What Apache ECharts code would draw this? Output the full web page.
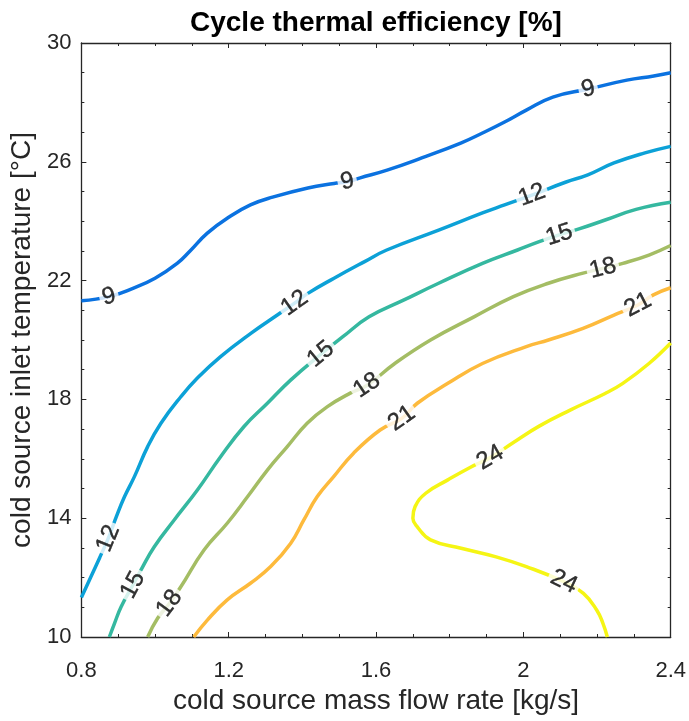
<!DOCTYPE html>
<html>
<head>
<meta charset="utf-8">
<script src="https://cdn.jsdelivr.net/npm/echarts@6/dist/echarts.min.js"></script>
<style>
html,body{margin:0;padding:0;background:#fff;}
#main{width:689px;height:721px;}
</style>
</head>
<body>
<div id="main"></div>
<script>
// ---- data ----
const xTicks = [0.8, 1.2, 1.6, 2, 2.4];
const yTicks = [10, 14, 18, 22, 26, 30];
const levels = [9, 12, 15, 18, 21, 24];

const c9 = [[0.8,21.32],[0.875,21.46],[0.94,21.74],[1.0,22.08],[1.06,22.58],[1.095,23.0],[1.142,23.6],[1.201,24.14],[1.259,24.55],[1.319,24.81],[1.415,25.12],[1.486,25.27],[1.522,25.33],[1.557,25.46],[1.63,25.72],[1.724,26.13],[1.83,26.63],[1.889,26.97],[1.949,27.34],[2.008,27.74],[2.08,28.18],[2.176,28.45],[2.281,28.75],[2.354,28.89],[2.4,29.0]];
const c12 = [[0.8,11.33],[0.825,12.0],[0.85,12.68],[0.873,13.32],[0.895,14.05],[0.917,14.72],[0.944,15.4],[0.98,16.41],[1.016,17.2],[1.07,18.09],[1.115,18.72],[1.178,19.44],[1.261,20.23],[1.332,20.84],[1.379,21.24],[1.415,21.57],[1.486,22.08],[1.569,22.64],[1.629,23.03],[1.77,23.7],[1.889,24.28],[1.949,24.55],[2.023,24.88],[2.116,25.32],[2.175,25.56],[2.246,25.96],[2.33,26.3],[2.4,26.52]];
const c15 = [[0.876,10.0],[0.89,10.46],[0.908,11.02],[0.94,11.75],[0.962,12.26],[0.998,13.04],[1.052,13.94],[1.115,14.95],[1.178,16.07],[1.241,17.08],[1.305,17.87],[1.368,18.65],[1.45,19.52],[1.51,20.11],[1.581,20.78],[1.676,21.35],[1.77,21.91],[1.889,22.58],[1.984,23.03],[2.043,23.31],[2.097,23.54],[2.151,23.74],[2.222,24.04],[2.306,24.4],[2.4,24.64]];
const c18 = [[0.98,10.0],[1.007,10.63],[1.039,11.13],[1.07,11.69],[1.133,12.93],[1.196,13.83],[1.251,14.72],[1.305,15.62],[1.359,16.41],[1.413,17.2],[1.467,17.75],[1.53,18.21],[1.575,18.47],[1.651,19.21],[1.748,20.0],[1.866,20.78],[1.973,21.46],[2.068,21.91],[2.162,22.25],[2.216,22.41],[2.27,22.58],[2.341,22.86],[2.4,23.18]];
const c21 = [[1.105,10.0],[1.142,10.57],[1.196,11.25],[1.259,11.81],[1.314,12.37],[1.368,13.15],[1.404,13.94],[1.44,14.72],[1.485,15.4],[1.539,16.19],[1.611,16.97],[1.67,17.36],[1.712,17.87],[1.795,18.54],[1.889,19.21],[2.008,19.78],[2.068,20.0],[2.162,20.39],[2.246,20.84],[2.311,21.18],[2.353,21.52],[2.4,21.76]];
const c24 = [[2.228,10.0],[2.216,10.46],[2.199,10.91],[2.163,11.47],[2.11,11.86],[2.008,12.37],[1.926,12.7],[1.831,12.99],[1.748,13.27],[1.712,13.71],[1.7,14.0],[1.706,14.39],[1.735,14.84],[1.795,15.29],[1.854,15.7],[1.91,16.04],[1.973,16.55],[2.043,17.1],[2.127,17.64],[2.222,18.2],[2.27,18.54],[2.341,19.21],[2.4,19.9]];

const lab9 = [[0.875,21.46],[1.522,25.33],[2.176,28.45]];
const lab12 = [[0.873,13.32],[1.379,21.24],[2.023,24.88]];
const lab15 = [[0.94,11.75],[1.45,19.52],[2.097,23.54]];
const lab18 = [[1.039,11.13],[1.575,18.47],[2.216,22.41]];
const lab21 = [[1.67,17.36],[2.311,21.18]];
const lab24 = [[1.91,16.04],[2.11,11.86]];

const contours = [c9, c12, c15, c18, c21, c24];
const labelPts = [lab9, lab12, lab15, lab18, lab21, lab24];
const colors = ['#0B72E0', '#0CA1D7', '#35B8A0', '#A4BD64', '#FDBA3C', '#F5F514'];

// ---- chart ----
const FONT = '"Liberation Sans", Arial, Helvetica, sans-serif';
const axisColor = '#262626';
const chart = echarts.init(document.getElementById('main'));

const commonX = {
  type: 'value', min: 0.8, max: 2.4, interval: 0.4,
  axisLine: { show: true, onZero: false, lineStyle: { color: axisColor, width: 1.3 } },
  axisTick: { show: true, inside: true, length: 5, lineStyle: { color: axisColor } },
  minorTick: { show: true, splitNumber: 4, length: 3, lineStyle: { color: axisColor } },
  splitLine: { show: false }, minorSplitLine: { show: false }
};
const commonY = {
  type: 'value', min: 10, max: 30, interval: 4,
  axisLine: { show: true, onZero: false, lineStyle: { color: axisColor, width: 1.3 } },
  axisTick: { show: true, inside: true, length: 5, lineStyle: { color: axisColor } },
  minorTick: { show: true, splitNumber: 4, length: 3, lineStyle: { color: axisColor } },
  splitLine: { show: false }, minorSplitLine: { show: false }
};

const lineSeries = contours.map((c, i) => ({
  type: 'line', name: String(levels[i]), data: c,
  xAxisIndex: 0, yAxisIndex: 0,
  smooth: 0.45, showSymbol: false, symbol: 'none', clip: true,
  lineStyle: { color: colors[i], width: 3.5 }, z: 2, silent: true
}));

chart.setOption({
  animation: false,
  backgroundColor: '#fff',
  title: {
    text: 'Cycle thermal efficiency [%]',
    left: 190, top: 9, padding: 0,
    textStyle: { fontFamily: FONT, fontSize: 28, fontWeight: 'bold', color: '#000' }
  },
  grid: { left: 80, right: 17, top: 43, bottom: 84, containLabel: false },
  xAxis: [
    Object.assign({}, commonX, {
      position: 'bottom',
      name: 'cold source mass flow rate [kg/s]', nameLocation: 'middle', nameGap: 49,
      nameTextStyle: { fontFamily: FONT, fontSize: 28, color: axisColor },
      axisLabel: { fontFamily: FONT, fontSize: 22, color: axisColor, margin: 23,
        formatter: v => String(+v.toFixed(1)) }
    }),
    Object.assign({}, commonX, { position: 'top', axisLabel: { show: false } })
  ],
  yAxis: [
    Object.assign({}, commonY, {
      position: 'left',
      name: 'cold source inlet temperature [°C]', nameLocation: 'middle', nameGap: 45, nameRotate: 90,
      nameTextStyle: { fontFamily: FONT, fontSize: 28, color: axisColor },
      axisLabel: { fontFamily: FONT, fontSize: 22, color: axisColor, margin: 10 }
    }),
    Object.assign({}, commonY, { position: 'right', axisLabel: { show: false } })
  ],
  series: lineSeries
});

// label rotation from neighbouring points along each contour (pixel space)
function angleFor(line, pt) {
  const pp = chart.convertToPixel({ seriesIndex: 0 }, pt);
  let best = 0, bd = Infinity;
  line.forEach((p, i) => {
    const q = chart.convertToPixel({ seriesIndex: 0 }, p);
    const d = (q[0] - pp[0]) ** 2 + (q[1] - pp[1]) ** 2;
    if (d < bd) { bd = d; best = i; }
  });
  const a = chart.convertToPixel({ seriesIndex: 0 }, line[Math.max(0, best - 1)]);
  const b = chart.convertToPixel({ seriesIndex: 0 }, line[Math.min(line.length - 1, best + 1)]);
  let ang = Math.atan2(-(b[1] - a[1]), b[0] - a[0]) * 180 / Math.PI;
  if (ang > 90) ang -= 180;
  if (ang < -90) ang += 180;
  return ang;
}

const labelData = [];
labelPts.forEach((pts, i) => {
  pts.forEach(pt => {
    labelData.push({
      name: String(levels[i]),
      value: pt,
      label: { rotate: angleFor(contours[i], pt) }
    });
  });
});

chart.setOption({
  series: lineSeries.concat([{
    type: 'scatter', name: 'labels', data: labelData,
    xAxisIndex: 0, yAxisIndex: 0,
    symbol: 'circle', symbolSize: 1, itemStyle: { color: 'rgba(255,255,255,0)' }, z: 5, silent: true,
    labelLayout: { hideOverlap: false },
    label: {
      show: true, position: 'inside', formatter: '{b}',
      fontFamily: FONT, fontSize: 24, color: '#000',
      textBorderColor: '#000', textBorderWidth: 0.4,
      backgroundColor: '#fff', padding: [0, 3], lineHeight: 24
    }
  }])
});
</script>
</body>
</html>
